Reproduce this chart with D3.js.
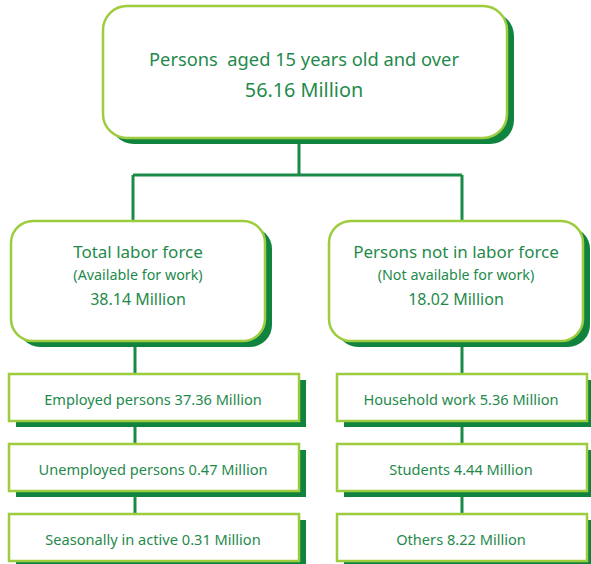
<!DOCTYPE html>
<html>
<head>
<meta charset="utf-8">
<script src="https://cdn.jsdelivr.net/npm/d3@7"></script>
<style>
  body { margin: 0; background: #fff; }
  svg { display: block; }
  text { font-family: "Noto Sans", sans-serif; fill: #1f8a4c; white-space: pre; }
</style>
</head>
<body>
<div id="chart"></div>
<script>
// data
const rootLabel = "Persons  aged 15 years old and over";
const rootValue = 56.16;
const groupLabels = ["Total labor force", "Persons not in labor force"];
const groupNotes = ["(Available for work)", "(Not available for work)"];
const groupValues = [38.14, 18.02];
const leftCategories = ["Employed persons", "Unemployed persons", "Seasonally in active"];
const leftValues = [37.36, 0.47, 0.31];
const rightCategories = ["Household work", "Students", "Others"];
const rightValues = [5.36, 4.44, 8.22];

const width = 591, height = 564;
const border = "#9dcc3f", shadow = "#10843f", line = "#1a8a47";

const svg = d3.select("#chart").append("svg")
    .attr("width", width)
    .attr("height", height);

const fmt = v => d3.format(".2f")(v) + " Million";

// columns & rows
const col = d3.scaleOrdinal().domain([0, 1]).range([137, 460]);
const row = d3.scalePoint().domain([0, 1, 2]).range([374, 514]);

const linesG = svg.append("g");
const boxG = svg.append("g");

function box(x, y, w, h, r) {
    boxG.append("rect")
        .attr("x", x + 7).attr("y", y + 6)
        .attr("width", w).attr("height", h)
        .attr("rx", r)
        .attr("fill", shadow);
    boxG.append("rect")
        .attr("x", x).attr("y", y)
        .attr("width", w).attr("height", h)
        .attr("rx", r)
        .attr("fill", "#fff")
        .attr("stroke", border)
        .attr("stroke-width", 2.5);
}

function label(x, y, txt, size) {
    boxG.append("text")
        .attr("x", x).attr("y", y)
        .attr("text-anchor", "middle")
        .attr("dominant-baseline", "central")
        .attr("font-size", size)
        .attr("xml:space", "preserve")
        .text(txt);
}

// connectors
linesG.selectAll("path.conn")
    .data([
        [[299, 138], [299, 175]],
        [[col(0) - 4, 175], [col(1) + 2, 175]],
        [[col(0) - 4, 175], [col(0) - 4, 222]],
        [[col(1) + 2, 175], [col(1) + 2, 222]],
        [[col(0) - 2, 340], [col(0) - 2, row(2) + 10]],
        [[col(1) + 2, 340], [col(1) + 2, row(2) + 10]]
    ])
    .join("path")
    .attr("d", d3.line())
    .attr("stroke", line)
    .attr("stroke-width", 3)
    .attr("fill", "none");

// root
box(103, 6, 404, 132, 24);
label(304, 58, rootLabel, 18.3);
label(304, 89, fmt(rootValue), 19.8);

// groups
groupLabels.forEach((g, i) => {
    const x = i === 0 ? 11 : 329;
    const cx = i === 0 ? 138 : 456;
    box(x, 221, 254, 120, 22);
    label(cx, 251, g, 17);
    label(cx, 274, groupNotes[i], 14.3);
    label(cx, 299, fmt(groupValues[i]), 16);
});

// leaves
[[leftCategories, leftValues], [rightCategories, rightValues]].forEach(([cats, vals], i) => {
    const x = i === 0 ? 9 : 337;
    const w = i === 0 ? 290 : 250;
    cats.forEach((c, j) => {
        box(x, row(j), w, 47, 0);
        label(x + w / 2 - 1, row(j) + 25, c + " " + fmt(vals[j]), 14.6);
    });
});
</script>
</body>
</html>
